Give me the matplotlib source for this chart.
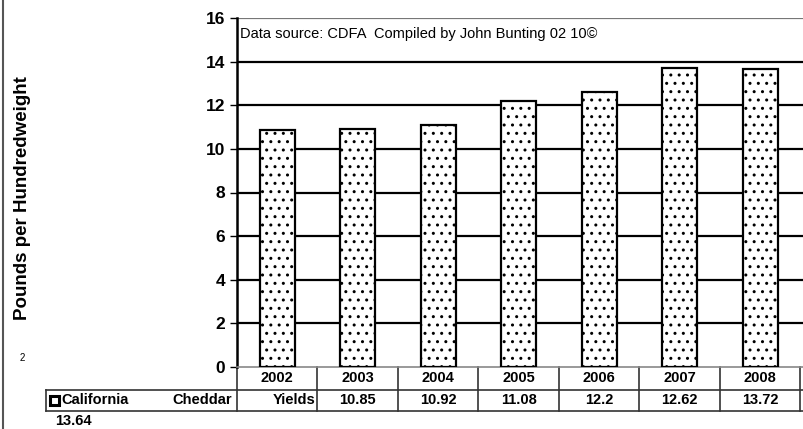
import numpy as np
import matplotlib.pyplot as plt
from matplotlib.transforms import blended_transform_factory

plt.rcParams['font.family'] = ['Liberation Sans', 'DejaVu Sans']
plt.rcParams['hatch.linewidth'] = 1.0

years = ['2002', '2003', '2004', '2005', '2006', '2007', '2008']
yields = [10.85, 10.92, 11.08, 12.2, 12.62, 13.72, 13.64]
series_name = ['California', 'Cheddar', 'Yields']
note = 'Data source: CDFA  Compiled by John Bunting 02 10\u00a9'

W, H = 804, 429
fig = plt.figure(figsize=(W / 100, H / 100), dpi=100)

# axes runs past the right edge of the picture, like the cropped original
cat_px = 80.5
left_px, top_px, bot_px = 237, 18, 367
n_cols = 8
ax = fig.add_axes([left_px / W, 1 - bot_px / H, n_cols * cat_px / W, (bot_px - top_px) / H])

x = np.arange(len(years))
ax.bar(x, yields, width=0.44, color='white', edgecolor='black', linewidth=1.6,
       hatch='..', zorder=3)

ax.set_xlim(-0.5, n_cols - 0.5)
ax.set_ylim(0, 16)
ax.set_yticks(np.arange(0, 17, 2))
for v in np.arange(2, 17, 2):
    ax.axhline(v, color='black' if v < 16 else '#777777', lw=1.6, zorder=1)
ax.set_xticks([])
for s in ['top', 'right']:
    ax.spines[s].set_visible(False)
ax.spines['left'].set_linewidth(1.8)
ax.spines['bottom'].set_color('#888888')
ax.spines['bottom'].set_linewidth(1.2)
ax.tick_params(axis='y', length=5, width=1, labelsize=12.5)
for lab in ax.get_yticklabels():
    lab.set_fontweight('bold')
ax.set_ylabel('Pounds per Hundredweight', fontsize=13.5, fontweight='bold')
ax.yaxis.set_label_coords((31 - left_px) / (n_cols * cat_px), 0.484)

ax.text(-0.5 + 3 / cat_px, 15.25, note, fontsize=10.5, va='center', ha='left')

# data table below the plot
tr = blended_transform_factory(ax.transData, ax.transAxes)
ax_h = bot_px - top_px
r1 = (bot_px - 390) / ax_h
r2 = (bot_px - 411) / ax_h
x_left = -0.5 + (46 - left_px) / cat_px
x_right = n_cols - 0.5
kw = dict(transform=tr, clip_on=False, color='#333333', lw=1.2)
ax.plot([-0.5, -0.5], [0, r2], **kw)
ax.plot([x_left, x_right], [r1, r1], **kw)
ax.plot([x_left, x_right], [r2, r2], **kw)
ax.plot([x_left, x_left], [r1, r2], **kw)
fs = 10.5
for i in range(len(years)):
    ax.plot([i + 0.5, i + 0.5], [0, r2], **kw)
    ax.text(i, (0 + r1) / 2, years[i], transform=tr, ha='center', va='center',
            fontsize=fs, fontweight='bold')

# row of values is shifted one cell, as in the source table
ym = (r1 + r2) / 2
ax.text(-0.5 + (61 - left_px) / cat_px, ym, series_name[0], transform=tr,
        ha='left', va='center', fontsize=fs, fontweight='bold')
ax.text(-0.5 - 5 / cat_px, ym, series_name[1], transform=tr,
        ha='right', va='center', fontsize=fs, fontweight='bold')
ax.text(0.5 - 2 / cat_px, ym, series_name[2], transform=tr,
        ha='right', va='center', fontsize=fs, fontweight='bold')
ax.add_patch(plt.Rectangle((-0.5 + (50 - left_px) / cat_px, ym - 0.013), 9 / cat_px, 0.027,
                           transform=tr, clip_on=False, facecolor='white',
                           edgecolor='black', lw=2.2))
for i, v in enumerate(yields[:-1]):
    ax.text(i + 1, ym, f'{v:g}', transform=tr, ha='center', va='center',
            fontsize=fs, fontweight='bold')
ax.text(-0.5 + (55 - left_px) / cat_px, (bot_px - 421) / ax_h, f'{yields[-1]:g}',
        transform=tr, ha='left', va='center', fontsize=fs, fontweight='bold')

fig.text(22 / W, 1 - 358 / H, '2', fontsize=7, ha='center', va='center')
fig.add_artist(plt.Line2D([3 / W, 3 / W], [0, 1], color='#555555', lw=1.5))

fig.savefig('out.png', dpi=100)
